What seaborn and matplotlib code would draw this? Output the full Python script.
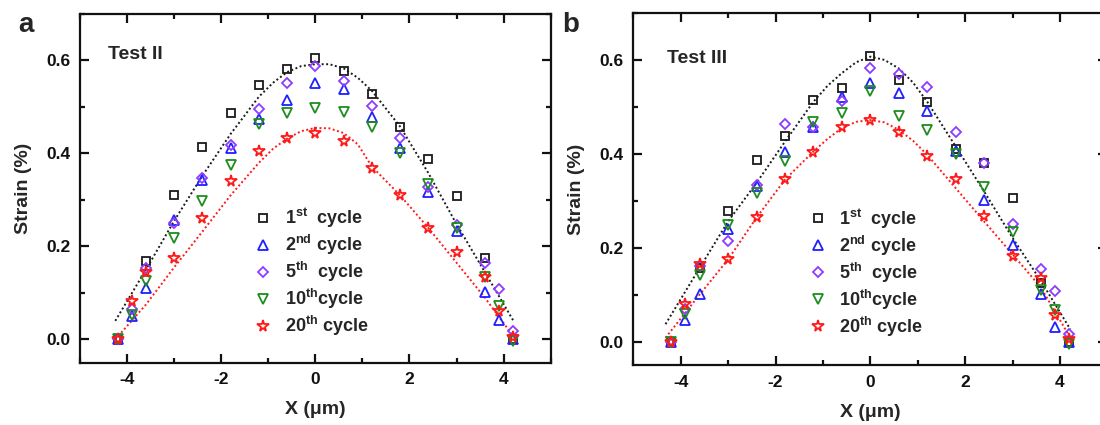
import numpy as np
import pandas as pd
import matplotlib
matplotlib.use("Agg")
import matplotlib.pyplot as plt
import seaborn as sns
from matplotlib.ticker import MultipleLocator, FormatStrFormatter

nan = np.nan
# ---------------- data ----------------
X_POS = [-4.2, -3.9, -3.6, -3.0, -2.4, -1.8, -1.2, -0.6, 0.0, 0.6, 1.2, 1.8, 2.4, 3.0, 3.6, 3.9, 4.2]

# Panel a (Test II)
A_C1 = [0.0, nan, 0.169, 0.310, 0.413, 0.486, 0.547, 0.582, 0.606, 0.577, 0.527, 0.457, 0.389, 0.309, 0.175, nan, 0.0]
A_C2 = [0.0, 0.051, 0.110, 0.256, 0.342, 0.412, 0.474, 0.516, 0.552, 0.538, 0.479, 0.412, 0.318, 0.234, 0.103, 0.041, 0.0]
A_C5 = [0.0, 0.066, 0.153, 0.250, 0.348, 0.418, 0.496, 0.552, 0.588, 0.556, 0.503, 0.433, 0.327, 0.247, 0.165, 0.109, 0.019]
A_C10 = [0.0, 0.053, 0.126, 0.218, 0.298, 0.376, 0.463, 0.486, 0.497, 0.490, 0.456, 0.401, 0.335, 0.239, 0.134, 0.071, -0.003]
A_C20 = [0.0, 0.082, 0.146, 0.175, 0.261, 0.340, 0.405, 0.433, 0.445, 0.426, 0.369, 0.311, 0.239, 0.188, 0.135, 0.062, 0.006]

# Panel b (Test III)
B_C1 = [0.0, nan, 0.157, 0.279, 0.387, 0.437, 0.514, 0.541, 0.608, 0.557, 0.511, 0.410, 0.380, 0.305, 0.125, nan, 0.0]
B_C2 = [0.0, 0.045, 0.102, 0.239, 0.332, 0.404, 0.458, 0.522, 0.550, 0.529, 0.492, 0.407, 0.301, 0.205, 0.101, 0.031, -0.002]
B_C5 = [0.0, 0.069, 0.161, 0.215, 0.334, 0.463, 0.458, 0.513, 0.582, 0.569, 0.543, 0.446, 0.380, 0.251, 0.155, 0.108, 0.017]
B_C10 = [0.0, 0.058, 0.142, 0.249, 0.317, 0.384, 0.467, 0.487, 0.533, 0.480, 0.451, 0.400, 0.329, 0.234, 0.109, 0.067, -0.006]
B_C20 = [0.0, 0.079, 0.166, 0.175, 0.266, 0.347, 0.404, 0.457, 0.472, 0.446, 0.395, 0.347, 0.267, 0.182, 0.135, 0.056, 0.005]

# Fit curves (dotted)
FIT_X_A = [-4.25, -3.6, -3.0, -2.4, -1.8, -1.2, -0.9, -0.6, -0.3, 0.0, 0.3, 0.6, 0.9, 1.2, 1.8, 2.4, 3.0, 3.6, 4.22]
FIT_A_C1 = [0.040, 0.150, 0.255, 0.352, 0.442, 0.522, 0.552, 0.575, 0.588, 0.592, 0.592, 0.583, 0.563, 0.535, 0.458, 0.358, 0.248, 0.145, 0.038]
FIT_A_C20 = [0.000, 0.075, 0.155, 0.232, 0.310, 0.380, 0.410, 0.432, 0.448, 0.455, 0.454, 0.444, 0.420, 0.372, 0.310, 0.240, 0.165, 0.090, 0.005]
FIT_X_B = [-4.32, -3.6, -3.0, -2.4, -1.8, -1.2, -0.9, -0.6, -0.3, 0.0, 0.3, 0.6, 0.9, 1.2, 1.8, 2.4, 3.0, 3.6, 4.22]
FIT_B_C1 = [0.037, 0.157, 0.256, 0.338, 0.426, 0.511, 0.545, 0.572, 0.595, 0.607, 0.600, 0.582, 0.552, 0.511, 0.416, 0.320, 0.221, 0.129, 0.026]
FIT_B_C20 = [0.008, 0.100, 0.175, 0.264, 0.345, 0.405, 0.432, 0.455, 0.468, 0.472, 0.467, 0.451, 0.428, 0.398, 0.327, 0.256, 0.186, 0.115, 0.008]

LABELS = [r"1$^{st}$  cycle", r"2$^{nd}$ cycle", r"5$^{th}$  cycle", r"10$^{th}$cycle", r"20$^{th}$ cycle"]
COLORS = ["#1a1a1a", "#1f1fff", "#8f3bff", "#1e8c1e", "#ff1a1a"]
MARKERS = ["s", "^", "D", "v", "*"]
MSIZES = [6.0, 7.5, 5.6, 7.5, 8.5]
TITLES = ["Test II", "Test III"]
PANEL_LETTERS = ["a", "b"]

# ---------------- style ----------------
sns.set_theme(style="ticks")
plt.rcParams["font.family"] = ["Liberation Sans", "DejaVu Sans"]
plt.rcParams["font.weight"] = "bold"
plt.rcParams["axes.unicode_minus"] = False
plt.rcParams["mathtext.fontset"] = "custom"
plt.rcParams["mathtext.rm"] = "Liberation Sans:bold"
plt.rcParams["mathtext.bf"] = "Liberation Sans:bold"
plt.rcParams["mathtext.it"] = "Liberation Sans:bold"
plt.rcParams["mathtext.default"] = "bf"

fig = plt.figure(figsize=(11, 4.25), dpi=100)
W, H = 1100, 425
ax_a = fig.add_axes([80 / W, (H - 362.7) / H, 470.7 / W, 348.7 / H])
ax_b = fig.add_axes([633.3 / W, (H - 365) / H, 474 / W, 352 / H])

panels = [
    (ax_a, [A_C1, A_C2, A_C5, A_C10, A_C20], FIT_X_A, FIT_A_C1, FIT_A_C20),
    (ax_b, [B_C1, B_C2, B_C5, B_C10, B_C20], FIT_X_B, FIT_B_C1, FIT_B_C20),
]

for i, (ax, series, fx, f1, f20) in enumerate(panels):
    for fy, col in ((f1, COLORS[0]), (f20, COLORS[4])):
        df_fit = pd.DataFrame({"x": fx, "y": fy})
        sns.lineplot(data=df_fit, x="x", y="y", ax=ax, color=col, linestyle=(0, (1, 1.3)),
                     linewidth=1.4, errorbar=None, sort=False)
    for vals, lab, col, mk, ms in zip(series, LABELS, COLORS, MARKERS, MSIZES):
        df = pd.DataFrame({"x": X_POS, "y": vals}).dropna()
        sns.lineplot(data=df, x="x", y="y", ax=ax, linestyle="", marker=mk, markersize=ms,
                     markerfacecolor="none", markeredgecolor=col, markeredgewidth=1.3,
                     color=col, label=lab, errorbar=None, sort=False)

    ax.set_xlim(-5, 5)
    ax.set_ylim(-0.05, 0.7)
    ax.xaxis.set_major_locator(MultipleLocator(2))
    ax.xaxis.set_minor_locator(MultipleLocator(1))
    ax.yaxis.set_major_locator(MultipleLocator(0.2))
    ax.yaxis.set_minor_locator(MultipleLocator(0.1))
    ax.yaxis.set_major_formatter(FormatStrFormatter("%.1f"))
    ax.tick_params(which="both", direction="in", top=True, right=True, width=1.6, colors="#111111")
    ax.tick_params(which="major", length=6.5, labelsize=12.5, pad=7)
    ax.tick_params(which="minor", length=3.5)
    for lbl in ax.get_xticklabels() + ax.get_yticklabels():
        lbl.set_fontweight("bold")
    for sp in ax.spines.values():
        sp.set_linewidth(1.6)
        sp.set_color("#111111")
    ax.set_xlabel("X (\u03bcm)", fontsize=14, fontweight="bold", labelpad=10)
    ax.set_ylabel("Strain (%)", fontsize=14, fontweight="bold", labelpad=10)
    ax.text(0.06 if i == 0 else 0.071, 0.871 if i == 0 else 0.859, TITLES[i], transform=ax.transAxes,
            fontsize=14, fontweight="bold", ha="left", va="baseline")
    ax.legend(loc="upper left", bbox_to_anchor=(0.37, 0.45), frameon=False,
              prop={"weight": "bold", "size": 13}, handlelength=1.0, handletextpad=0.7,
              labelspacing=0.16, borderpad=0, borderaxespad=0)

fig.text(18 / W, 1 - 32 / H, "a", fontsize=20, fontweight="bold", va="baseline")
fig.text(562 / W, 1 - 32 / H, "b", fontsize=20, fontweight="bold", va="baseline")

fig.savefig("out.png", dpi=100)
